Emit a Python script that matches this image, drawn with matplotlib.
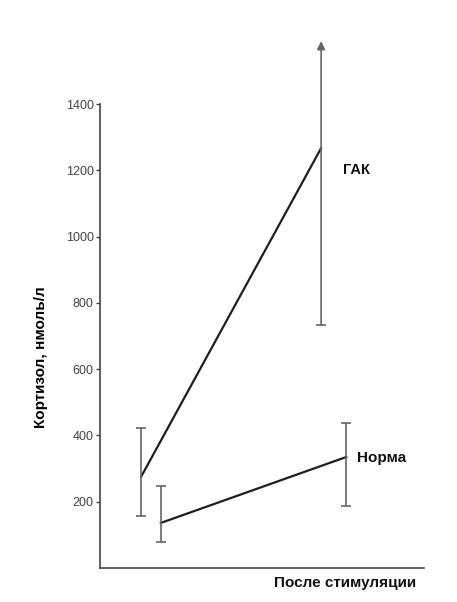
import matplotlib
matplotlib.use("Agg")
import matplotlib.pyplot as plt

plt.rcParams['font.family'] = ['Liberation Sans', 'DejaVu Sans']

# позиции по оси x (до / после стимуляции)
x_gak = [1.0, 2.0]
x_norm = [1.11, 2.14]

# ГАК
gak_mean = [275, 1267]
gak_low = [157, 733]
gak_high = [422, 1590]   # верхний ус уходит за пределы шкалы (стрелка)

# Норма
norm_mean = [136, 335]
norm_low = [78, 187]
norm_high = [247, 437]

yticks = [200, 400, 600, 800, 1000, 1200, 1400]

fig = plt.figure(figsize=(4.57, 6.02), dpi=100)
ax = fig.add_axes([0.2188, 0.0565, 0.7092, 0.8807])

line_c = '#1e1e1e'
err_c = '#666666'

ax.plot(x_gak, gak_mean, color=line_c, linewidth=1.6)
ax.plot(x_norm, norm_mean, color=line_c, linewidth=1.6)

# усы
ax.errorbar(x_gak[0], gak_mean[0],
            yerr=[[gak_mean[0] - gak_low[0]], [gak_high[0] - gak_mean[0]]],
            fmt='none', ecolor=err_c, elinewidth=1.2, capsize=3.5, capthick=1.2)
ax.errorbar(x_norm, norm_mean,
            yerr=[[m - l for m, l in zip(norm_mean, norm_low)],
                  [h - m for m, h in zip(norm_mean, norm_high)]],
            fmt='none', ecolor=err_c, elinewidth=1.2, capsize=3.5, capthick=1.2)
# ГАК после: нижняя засечка, вверх - стрелка
ax.plot(x_gak[1], gak_low[1], marker='_', markersize=7, markeredgewidth=1.2,
        color=err_c)
ax.annotate('', xy=(x_gak[1], gak_high[1]), xytext=(x_gak[1], gak_low[1]),
            arrowprops=dict(arrowstyle='-|>', color=err_c, lw=1.2,
                            mutation_scale=12, shrinkA=0, shrinkB=0))

ax.text(2.12, 1200, 'ГАК', fontsize=10.5, fontweight='bold', color='#111111',
        va='center', ha='left')
ax.text(2.2, 333, 'Норма', fontsize=11, fontweight='bold', color='#111111',
        va='center', ha='left')

ax.set_xlim(0.772, 2.572)
ax.set_ylim(0, 1600)
ax.set_yticks(yticks)
ax.set_xticks([])
ax.tick_params(axis='y', direction='out', length=3, width=1, colors='#444444',
               labelsize=9, pad=1.5)
ax.spines['top'].set_visible(False)
ax.spines['right'].set_visible(False)
ax.spines['left'].set_bounds(0, 1400)
ax.spines['left'].set_color('#444444')
ax.spines['bottom'].set_color('#444444')
ax.spines['left'].set_linewidth(1.2)
ax.spines['bottom'].set_linewidth(1.2)

ax.set_ylabel('Кортизол, нмоль/л', fontsize=11, fontweight='bold')
ax.yaxis.set_label_coords(-0.16, 0.398)
fig.text(0.755, 0.032, 'После стимуляции', fontsize=11, fontweight='bold',
         ha='center', va='center', color='#111111')

fig.savefig('out.png', dpi=100, facecolor='white')
